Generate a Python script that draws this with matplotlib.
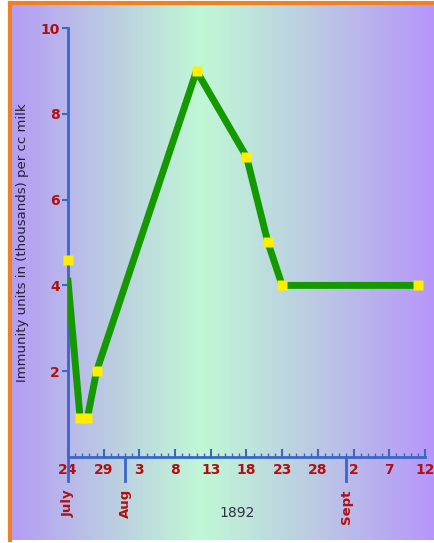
import matplotlib
matplotlib.use('Agg')
import matplotlib.pyplot as plt
from matplotlib.colors import LinearSegmentedColormap
import numpy as np

# days counted from July 24, 1892
line_days = [0, 1.7, 2.7, 4, 18, 25, 28, 30, 49]
line_vals = [4.1, 0.9, 0.9, 2.0, 9.0, 7.0, 5.0, 4.0, 4.0]
mark_days = [0, 1.7, 2.7, 4, 18, 25, 28, 30, 49]
mark_vals = [4.6, 0.9, 0.9, 2.0, 9.0, 7.0, 5.0, 4.0, 4.0]

day_ticks = [0, 5, 10, 15, 20, 25, 30, 35, 40, 45, 50]
day_labels = ['24', '29', '3', '8', '13', '18', '23', '28', '2', '7', '12']
month_days = [0, 8, 39]
month_names = ['July', 'Aug', 'Sept']
y_ticks = [2, 4, 6, 8, 10]

red = '#b01010'
blue = '#3a66c8'

fig = plt.figure(figsize=(4.35, 5.43), dpi=100)

# gradient background with orange frame
bg = fig.add_axes([10/435, 3/543, 425/435, 537/543])
cmap = LinearSegmentedColormap.from_list('bg', [
    (0.0, '#b49cf6'), (0.25, '#bccfe0'), (0.45, '#c0f8d6'),
    (0.7, '#bccde2'), (1.0, '#b696fa')])
bg.imshow(np.linspace(0, 1, 256)[None, :], aspect='auto', cmap=cmap,
          extent=[0, 1, 0, 1])
bg.set_xlim(0, 1)
bg.set_ylim(0, 1)
bg.set_xticks([])
bg.set_yticks([])
for s in ['left', 'top']:
    bg.spines[s].set_color('#f08020')
    bg.spines[s].set_linewidth(3)
for s in ['right', 'bottom']:
    bg.spines[s].set_visible(False)

ax = fig.add_axes([68/435, (543-457)/543, 357/435, (457-28)/543])
ax.patch.set_alpha(0)
ax.set_xlim(0, 50)
ax.set_ylim(0, 10)

ax.plot(line_days, line_vals, color='#149a00', lw=5, solid_joinstyle='round', zorder=3)
ax.plot(mark_days, mark_vals, 's', color='#ffee00', ms=7, mec='none', zorder=4, clip_on=False)

for s in ['top', 'right']:
    ax.spines[s].set_visible(False)
for s in ['left', 'bottom']:
    ax.spines[s].set_color(blue)
    ax.spines[s].set_linewidth(2)

ax.set_yticks(y_ticks)
ax.set_yticklabels([str(v) for v in y_ticks], color=red, fontsize=10,
                   fontweight='bold')
ax.tick_params(axis='y', colors=blue, length=4, width=1.5, labelcolor=red, pad=2)

ax.set_xticks(day_ticks)
ax.set_xticklabels(day_labels, color=red, fontsize=10, fontweight='bold')
ax.set_xticks(range(0, 51), minor=True)
ax.tick_params(axis='x', which='major', direction='in', colors=blue, length=6,
               width=1.5, labelcolor=red, pad=4)
ax.tick_params(axis='x', which='minor', direction='in', colors=blue, length=3, width=1)

# month marks below the axis
for d, name in zip(month_days, month_names):
    ax.plot([d, d], [0, -0.55], color=blue, lw=2, clip_on=False)
    ax.text(d, -0.75, name, rotation=90, ha='center', va='top', color=red,
            fontsize=9.5, fontweight='bold')

ax.text(0.475, -0.13, '1892', transform=ax.transAxes, ha='center', va='center',
        color='#303040', fontsize=10)
ax.set_ylabel('Immunity units in (thousands) per cc milk', fontsize=9.5,
              color='#202030', labelpad=8)

fig.savefig('out.png', dpi=100)
